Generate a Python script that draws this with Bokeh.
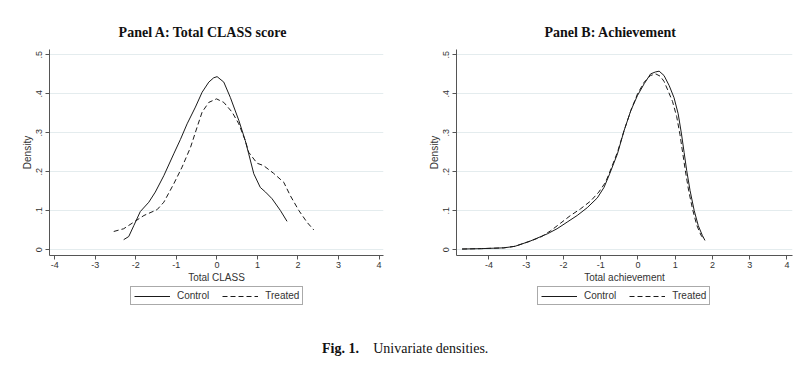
from bokeh.plotting import figure
from bokeh.models import FixedTicker, Label, Legend, LegendItem, Range1d
from bokeh.layouts import column, row
from bokeh.embed import file_html
from bokeh.resources import INLINE

# ---------------- data ----------------
x_ticks = [-4, -3, -2, -1, 0, 1, 2, 3, 4]
x_tick_labels = {-4: "-4", -3: "-3", -2: "-2", -1: "-1", 0: "0", 1: "1", 2: "2", 3: "3", 4: "4"}
y_ticks = [0, 0.1, 0.2, 0.3, 0.4, 0.5]
y_tick_labels = {0: "0", 0.1: ".1", 0.2: ".2", 0.3: ".3", 0.4: ".4", 0.5: ".5"}

series_names = ["Control", "Treated"]

# Panel A: Total CLASS score
class_control_x = [-2.30, -2.175, -2.05, -1.89, -1.68, -1.52, -1.31, -1.065, -0.90, -0.735,
                   -0.53, -0.365, -0.20, -0.08, 0.005, 0.17, 0.33, 0.54, 0.70, 0.785,
                   0.91, 1.07, 1.20, 1.36, 1.565, 1.73]
class_control_y = [0.026, 0.034, 0.062, 0.098, 0.122, 0.148, 0.19, 0.246, 0.283, 0.323,
                   0.366, 0.404, 0.43, 0.441, 0.444, 0.43, 0.391, 0.332, 0.28, 0.246,
                   0.195, 0.16, 0.148, 0.131, 0.101, 0.073]
class_treated_x = [-2.545, -2.30, -2.05, -1.80, -1.475, -1.31, -1.065, -0.86, -0.65, -0.49,
                   -0.365, -0.20, -0.01, 0.17, 0.375, 0.54, 0.70, 0.785, 0.99, 1.15,
                   1.40, 1.65, 1.81, 2.02, 2.22, 2.39]
class_treated_y = [0.047, 0.054, 0.071, 0.088, 0.103, 0.122, 0.169, 0.212, 0.263, 0.314,
                   0.353, 0.378, 0.387, 0.378, 0.353, 0.323, 0.28, 0.25, 0.222, 0.216,
                   0.196, 0.173, 0.139, 0.101, 0.071, 0.051]

# Panel B: Achievement
ach_control_x = [-4.72, -4.2, -3.6, -3.3, -2.9, -2.43, -2.17, -1.90, -1.63, -1.36,
                 -1.09, -0.91, -0.77, -0.55, -0.37, -0.19, -0.01, 0.17, 0.34, 0.47,
                 0.57, 0.70, 0.84, 0.97, 1.08, 1.17, 1.24, 1.31, 1.40, 1.51,
                 1.62, 1.73, 1.80]
ach_control_y = [0.002, 0.003, 0.005, 0.009, 0.022, 0.041, 0.054, 0.071, 0.088, 0.108,
                 0.133, 0.16, 0.192, 0.246, 0.306, 0.357, 0.396, 0.426, 0.451, 0.456,
                 0.458, 0.447, 0.421, 0.390, 0.349, 0.297, 0.250, 0.203, 0.152, 0.101,
                 0.062, 0.037, 0.024]
ach_treated_x = [-4.72, -4.2, -3.6, -3.3, -2.9, -2.6, -2.34, -2.08, -1.81, -1.54,
                 -1.27, -1.05, -0.87, -0.77, -0.55, -0.37, -0.19, -0.01, 0.17, 0.34,
                 0.48, 0.60, 0.70, 0.80, 0.93, 1.04, 1.13, 1.20, 1.27, 1.36,
                 1.47, 1.58, 1.69, 1.78]
ach_treated_y = [0.002, 0.003, 0.005, 0.009, 0.022, 0.033, 0.049, 0.068, 0.088, 0.105,
                 0.125, 0.148, 0.173, 0.196, 0.25, 0.306, 0.357, 0.40, 0.43, 0.447,
                 0.451, 0.445, 0.432, 0.41, 0.38, 0.342, 0.295, 0.250, 0.205, 0.153,
                 0.103, 0.063, 0.038, 0.026]

# ---------------- styling ----------------
SANS = "Liberation Sans"
SERIF = "Liberation Serif"
AXIS_COL = "#555555"
TEXT_COL = "#333333"
LINE_COL = "#1a1a1a"
GRID_COL = "#e4ecee"
DASH = "5 3"


def blank(width, height, yr=(0, 1)):
    f = figure(width=width, height=height, output_backend="svg", toolbar_location=None,
               x_range=Range1d(0, 1), y_range=Range1d(*yr),
               x_axis_type=None, y_axis_type=None, min_border=0)
    f.outline_line_color = None
    f.xgrid.visible = False
    f.ygrid.visible = False
    return f


def make_panel(width, mbl, mbr, xr, xlabel, cx, cy, tx, ty):
    p = figure(width=width, height=242, output_backend="svg", toolbar_location=None,
               x_range=Range1d(*xr), y_range=Range1d(-0.0146, 0.5136),
               min_border_left=mbl, min_border_right=mbr,
               min_border_top=5, min_border_bottom=31)
    p.outline_line_color = None
    p.background_fill_color = "white"
    p.border_fill_color = "white"

    p.xgrid.visible = False
    p.ygrid.ticker = FixedTicker(ticks=y_ticks)
    p.ygrid.grid_line_color = GRID_COL
    p.ygrid.grid_line_width = 1

    xa = p.xaxis[0]
    xa.ticker = FixedTicker(ticks=x_ticks)
    xa.major_label_overrides = x_tick_labels
    xa.axis_label = xlabel
    ya = p.yaxis[0]
    ya.ticker = FixedTicker(ticks=y_ticks)
    ya.major_label_overrides = y_tick_labels
    ya.major_label_orientation = "vertical"
    ya.axis_label = "Density"
    for ax in (xa, ya):
        ax.axis_line_color = AXIS_COL
        ax.major_tick_line_color = AXIS_COL
        ax.minor_tick_line_color = None
        ax.major_tick_out = 4
        ax.major_tick_in = 0
        ax.major_label_text_font = SANS
        ax.major_label_text_font_size = "9px"
        ax.major_label_text_color = TEXT_COL
        ax.major_label_standoff = 2
        ax.axis_label_text_font = SANS
        ax.axis_label_text_font_size = "10px"
        ax.axis_label_text_font_style = "normal"
        ax.axis_label_text_color = TEXT_COL
        ax.axis_label_standoff = 1
    ya.major_label_standoff = 3

    p.line(cx, cy, line_color=LINE_COL, line_width=1)
    p.line(tx, ty, line_color=LINE_COL, line_width=1, line_dash=DASH)
    return p


# ---- row 1: panel titles ----
pT = blank(804, 44)
pT.add_layout(Label(x=202.5, y=12, x_units="screen", y_units="screen", text="Panel A: Total CLASS score",
                    text_font=SERIF, text_font_style="bold", text_font_size="14px",
                    text_color="#111111", text_align="center", text_baseline="middle"))
pT.add_layout(Label(x=610, y=12, x_units="screen", y_units="screen", text="Panel B: Achievement",
                    text_font=SERIF, text_font_style="bold", text_font_size="14px",
                    text_color="#111111", text_align="center", text_baseline="middle"))

# ---- row 2: the two density panels ----
pA = make_panel(408, 49, 25, (-4.13, 4.11), "Total CLASS",
                class_control_x, class_control_y, class_treated_x, class_treated_y)
pB = make_panel(396, 48, 12, (-4.87, 4.15), "Total achievement",
                ach_control_x, ach_control_y, ach_treated_x, ach_treated_y)

# ---- row 3: legends (key lines drawn from the series, kept outside this strip's view) ----
pL = blank(804, 26, yr=(5, 6))
lc = pL.line(class_control_x, class_control_y, line_color=LINE_COL, line_width=1)
lt = pL.line(class_treated_x, class_treated_y, line_color=LINE_COL, line_width=1, line_dash=DASH)
for lx in (130, 537):
    legend = Legend(items=[LegendItem(label=series_names[0], renderers=[lc]),
                           LegendItem(label=series_names[1], renderers=[lt])],
                    orientation="horizontal", location=(lx, 7))
    legend.border_line_color = AXIS_COL
    legend.border_line_width = 1
    legend.background_fill_color = "white"
    legend.background_fill_alpha = 1
    legend.padding = 3
    legend.spacing = 13
    legend.margin = 0
    legend.glyph_width = 36
    legend.glyph_height = 10
    legend.label_height = 10
    legend.label_standoff = 7
    legend.label_text_font = SANS
    legend.label_text_font_size = "10px"
    legend.label_text_color = TEXT_COL
    pL.add_layout(legend)

# ---- row 4: caption ----
pC = blank(804, 54)
pC.add_layout(Label(x=340, y=17.7, x_units="screen", y_units="screen", text="Fig. 1.",
                    text_font=SERIF, text_font_style="bold", text_font_size="14px",
                    text_color="#111111", text_align="center", text_baseline="middle"))
pC.add_layout(Label(x=430.3, y=17.7, x_units="screen", y_units="screen", text="Univariate densities.",
                    text_font=SERIF, text_font_size="14px",
                    text_color="#111111", text_align="center", text_baseline="middle"))

layout = column(pT, row(pA, pB), pL, pC)
open("out.html", "w").write(file_html(layout, INLINE))
